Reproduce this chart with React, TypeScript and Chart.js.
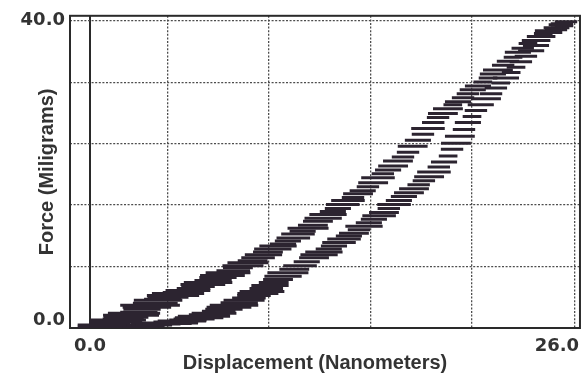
import React, { useEffect, useRef } from "react";
import { Chart, registerables } from "chart.js";

Chart.register(...registerables);

// Upper (left) branch of the loop: displacement (nm), force (mg), x error (nm)
const upperX = [0.27, 0.55, 0.64, 0.95, 1.07, 1.4, 1.5, 1.78, 1.93, 2.2, 2.36, 2.62, 2.79, 3.05, 3.22, 3.5, 3.65, 3.9, 4.18, 4.45, 4.72, 5.0, 5.25, 5.55, 5.79, 6.05, 6.33, 6.6, 6.86, 7.1, 7.4, 7.68, 7.93, 8.2, 8.47, 8.72, 9.01, 9.3, 9.54, 9.8, 10.08, 10.35, 10.61, 10.9, 11.15, 11.4, 11.69, 11.95, 12.22, 12.5, 12.76, 13.02, 13.29, 13.55, 13.83, 14.1, 14.37, 14.62, 14.9, 15.18, 15.44, 15.7, 15.98, 16.25, 16.51, 16.78, 17.05, 17.3, 17.58, 17.85, 18.12, 18.4, 18.66, 18.92, 19.19, 19.45, 19.73, 20.0, 20.26, 20.52, 20.8, 21.06, 21.34, 21.6, 21.87, 22.15, 22.41, 22.68, 22.94, 23.2, 23.48, 23.75, 24.02, 24.3, 24.55, 24.82, 25.09, 25.3, 25.52];
const upperY = [0.13, 0.26, 0.39, 0.52, 0.64, 0.77, 1.03, 1.16, 1.41, 1.67, 1.93, 2.06, 2.44, 2.7, 2.96, 3.22, 3.6, 3.73, 3.99, 4.24, 4.5, 4.63, 4.89, 5.14, 5.4, 5.66, 5.92, 6.17, 6.56, 6.82, 7.2, 7.46, 7.85, 8.1, 8.49, 8.75, 9.13, 9.52, 9.9, 10.29, 10.68, 10.93, 11.32, 11.7, 12.22, 12.61, 12.99, 13.38, 13.89, 14.28, 14.79, 15.18, 15.56, 16.08, 16.59, 16.98, 17.49, 17.88, 18.39, 18.91, 19.55, 20.07, 20.58, 21.1, 21.74, 22.25, 22.89, 23.66, 24.44, 25.21, 25.98, 26.75, 27.4, 27.92, 28.55, 29.07, 29.45, 29.97, 30.48, 31.0, 31.51, 32.03, 32.54, 33.06, 33.57, 34.21, 34.73, 35.24, 35.88, 36.4, 37.04, 37.43, 37.94, 38.33, 38.71, 39.1, 39.49, 39.62, 39.87];
const upperErr = [0.9, 1.2, 1.3, 1.0, 1.1, 1.4, 1.5, 1.1, 1.2, 1.5, 1.4, 1.0, 1.0, 1.3, 1.6, 1.2, 1.3, 1.0, 1.1, 1.4, 1.4, 1.1, 1.2, 0.9, 0.9, 1.2, 1.3, 1.0, 1.0, 1.2, 1.2, 0.9, 0.8, 1.1, 1.1, 0.8, 0.9, 1.0, 0.8, 1.0, 1.0, 0.7, 0.7, 0.9, 0.9, 0.7, 1.1, 0.8, 0.8, 1.0, 1.0, 0.7, 0.7, 0.9, 0.9, 0.6, 0.8, 0.7, 0.6, 0.8, 0.9, 0.6, 0.7, 0.8, 0.8, 0.6, 0.6, 0.8, 0.7, 0.6, 0.9, 0.6, 0.6, 0.8, 0.8, 0.5, 0.7, 0.6, 0.6, 0.7, 0.7, 0.5, 0.5, 0.7, 0.8, 0.6, 0.6, 0.5, 0.7, 0.6, 0.5, 0.6, 0.6, 0.5, 0.7, 0.5, 0.5, 0.6, 0.6];

// Lower (right) branch of the loop
const lowerX = [0.54, 0.8, 1.07, 1.4, 1.72, 2.05, 2.36, 2.7, 3.0, 3.3, 3.65, 3.95, 4.29, 4.6, 4.93, 5.25, 5.58, 5.85, 6.11, 6.4, 6.65, 6.9, 7.18, 7.45, 7.72, 8.0, 8.26, 8.52, 8.79, 9.0, 9.22, 9.45, 9.65, 9.85, 10.08, 10.35, 10.61, 10.95, 11.26, 11.62, 12.01, 12.28, 12.54, 12.8, 13.08, 13.35, 13.62, 13.88, 14.15, 14.42, 14.69, 14.95, 15.22, 15.5, 15.76, 16.02, 16.3, 16.56, 16.83, 17.1, 17.37, 17.62, 17.9, 18.18, 18.44, 18.7, 18.98, 19.2, 19.41, 19.62, 19.83, 20.05, 20.26, 20.48, 20.69, 20.95, 21.23, 21.5, 21.76, 22.02, 22.3, 22.58, 22.84, 23.1, 23.37, 23.65, 23.91, 24.18, 24.45, 24.72, 24.98, 25.2, 25.41];
const lowerY = [0.0, 0.05, 0.13, 0.1, 0.13, 0.2, 0.26, 0.3, 0.39, 0.45, 0.51, 0.58, 0.64, 0.77, 0.9, 1.03, 1.16, 1.35, 1.54, 1.73, 1.93, 2.18, 2.44, 2.7, 2.96, 3.28, 3.6, 3.92, 4.24, 4.5, 4.76, 5.14, 5.53, 5.92, 6.3, 6.75, 7.2, 7.65, 8.1, 8.62, 9.13, 9.52, 9.9, 10.29, 10.68, 11.13, 11.58, 11.96, 12.35, 12.8, 13.25, 13.7, 14.15, 14.6, 15.05, 15.56, 16.08, 16.59, 17.11, 17.62, 18.14, 18.65, 19.16, 19.68, 20.32, 20.97, 21.61, 22.38, 23.28, 24.05, 24.95, 25.85, 26.75, 27.53, 28.3, 29.07, 29.84, 30.48, 31.25, 31.9, 32.54, 33.25, 33.95, 34.66, 35.37, 36.08, 36.78, 37.43, 37.94, 38.45, 38.84, 39.1, 39.36];
const lowerErr = [1.2, 1.4, 1.5, 1.2, 1.3, 1.6, 1.6, 1.3, 1.4, 1.1, 1.2, 1.5, 1.5, 1.2, 1.3, 1.0, 1.1, 1.3, 1.4, 1.1, 1.2, 0.9, 1.0, 1.2, 1.3, 1.0, 1.1, 0.9, 0.9, 1.1, 1.2, 0.9, 1.0, 0.8, 0.8, 1.0, 1.1, 0.8, 0.9, 0.7, 0.8, 1.0, 1.0, 0.7, 0.7, 0.9, 0.9, 0.7, 0.8, 0.6, 1.0, 0.7, 0.7, 0.9, 0.8, 0.6, 0.9, 0.7, 0.7, 0.8, 0.8, 0.6, 0.6, 0.8, 0.9, 0.6, 0.7, 0.5, 0.6, 0.8, 0.8, 0.6, 0.7, 0.5, 0.6, 0.7, 0.8, 0.6, 0.6, 0.5, 0.7, 0.5, 0.5, 0.6, 0.6, 0.7, 0.7, 0.5, 0.5, 0.6, 0.6, 0.5, 0.5];

// Axis ticks / labels
const xTickLabels = ["0.0", "26.0"];
const yTickLabels = ["0.0", "40.0"];
const xGridValues = [4.18, 9.6, 15.06, 20.48, 26.0];
const yGridValues = [8, 16, 24, 32, 40];
const xTitle = "Displacement (Nanometers)";
const yTitle = "Force (Miligrams)";

// where the printed tick labels sit on the axes
const X_LABEL_LEFT = 0;
const X_LABEL_RIGHT = 25.03;
const Y_LABEL_BOTTOM = 1.03;
const Y_LABEL_TOP = 40;

const INK = "#2c2430";
const GRID = "#4d4d4d";

export default function App() {
  const ref = useRef<HTMLCanvasElement | null>(null);

  useEffect(() => {
    document.body.style.margin = "0";
    const canvas = ref.current;
    if (!canvas) return;

    const errRadius = (errs: number[]) => (c: any) => {
      const sx = c.chart.scales.x;
      const e = errs[c.dataIndex] ?? 0.8;
      return Math.abs(sx.getPixelForValue(e) - sx.getPixelForValue(0));
    };

    const framePlugin = {
      id: "frame",
      beforeDatasetsDraw(chart: any) {
        const { ctx, chartArea } = chart;
        ctx.save();
        ctx.strokeStyle = "#2a2a2a";
        ctx.lineWidth = 2;
        ctx.strokeRect(chartArea.left, chartArea.top, chartArea.right - chartArea.left, chartArea.bottom - chartArea.top);
        ctx.restore();
      },
      afterDraw(chart: any) {
        const { ctx } = chart;
        ctx.save();
        ctx.fillStyle = "#333";
        ctx.font = 'bold 20px "Liberation Sans", Arial, sans-serif';
        ctx.textAlign = "center";
        ctx.textBaseline = "middle";
        ctx.fillText(xTitle, 315, 363);
        ctx.restore();
      },
    };

    const xTicks = [
      { value: X_LABEL_LEFT, label: xTickLabels[0] },
      ...xGridValues.map((v) => ({ value: v, label: "" })),
      { value: X_LABEL_RIGHT, label: xTickLabels[1] },
    ].sort((a, b) => a.value - b.value);
    const yTicks = [
      { value: Y_LABEL_BOTTOM, label: yTickLabels[0] },
      ...yGridValues.map((v) => ({ value: v, label: v === Y_LABEL_TOP ? yTickLabels[1] : "" })),
    ].sort((a, b) => a.value - b.value);

    const mkSet = (label: string, xs: number[], ys: number[], errs: number[]) => ({
      label,
      data: xs.map((x, i) => ({ x, y: ys[i] })),
      pointStyle: "line",
      pointRadius: errRadius(errs),
      pointBorderWidth: 3,
      borderColor: INK,
      backgroundColor: INK,
      showLine: false,
    });

    const chart = new Chart(canvas, {
      type: "scatter",
      data: {
        datasets: [
          mkSet("upper", upperX, upperY, upperErr),
          mkSet("lower", lowerX, lowerY, lowerErr),
        ] as any,
      },
      options: {
        animation: false,
        responsive: true,
        maintainAspectRatio: false,
        layout: { padding: { top: 12, right: 3, left: 0, bottom: 0 } },
        plugins: { legend: { display: false }, tooltip: { enabled: false } },
        events: [],
        scales: {
          x: {
            type: "linear",
            min: -1.072,
            max: 26.268,
            afterBuildTicks: (s: any) => {
              s.ticks = xTicks.map((t) => ({ value: t.value }));
            },
            afterFit: (s: any) => {
              s.height = 51;
            },
            ticks: {
              autoSkip: false,
              maxRotation: 0,
              padding: 8,
              color: "#333",
              font: { family: '"DejaVu Sans", sans-serif', size: 18, weight: "bold" },
              callback: (v: any) => {
                const t = xTicks.find((k) => Math.abs(k.value - Number(v)) < 1e-6);
                return t ? t.label : "";
              },
            },
            grid: {
              drawTicks: false,
              color: (c: any) => {
                const v = c.tick?.value;
                if (v === X_LABEL_RIGHT) return "rgba(0,0,0,0)";
                if (v === 0) return "#2a2a2a";
                return GRID;
              },
              lineWidth: (c: any) => (c.tick?.value === 0 ? 2 : 1.3),
            },
            border: {
              display: false,
              dash: (c: any) => (c.tick && c.tick.value === 0 ? [] : [2, 1.6]),
            },
          },
          y: {
            type: "linear",
            min: 0,
            max: 40.64,
            afterBuildTicks: (s: any) => {
              s.ticks = yTicks.map((t) => ({ value: t.value }));
            },
            afterFit: (s: any) => {
              s.width = 70;
            },
            title: {
              display: true,
              text: yTitle,
              color: "#333",
              font: { family: '"Liberation Sans", Arial, sans-serif', size: 20, weight: "bold" },
              padding: { top: 35, bottom: 0 },
            },
            ticks: {
              autoSkip: false,
              padding: 5,
              color: "#333",
              font: { family: '"DejaVu Sans", sans-serif', size: 18, weight: "bold" },
              callback: (v: any) => {
                const t = yTicks.find((k) => Math.abs(k.value - Number(v)) < 1e-6);
                return t ? t.label : "";
              },
            },
            grid: {
              drawTicks: false,
              color: (c: any) => (c.tick?.value === Y_LABEL_BOTTOM ? "rgba(0,0,0,0)" : GRID),
              lineWidth: 1.3,
            },
            border: { display: false, dash: [2, 1.6] },
          },
        },
      },
      plugins: [framePlugin],
    });

    return () => chart.destroy();
  }, []);

  return (
    <div style={{ position: "relative", width: 583, height: 379 }}>
      <canvas ref={ref} />
    </div>
  );
}
